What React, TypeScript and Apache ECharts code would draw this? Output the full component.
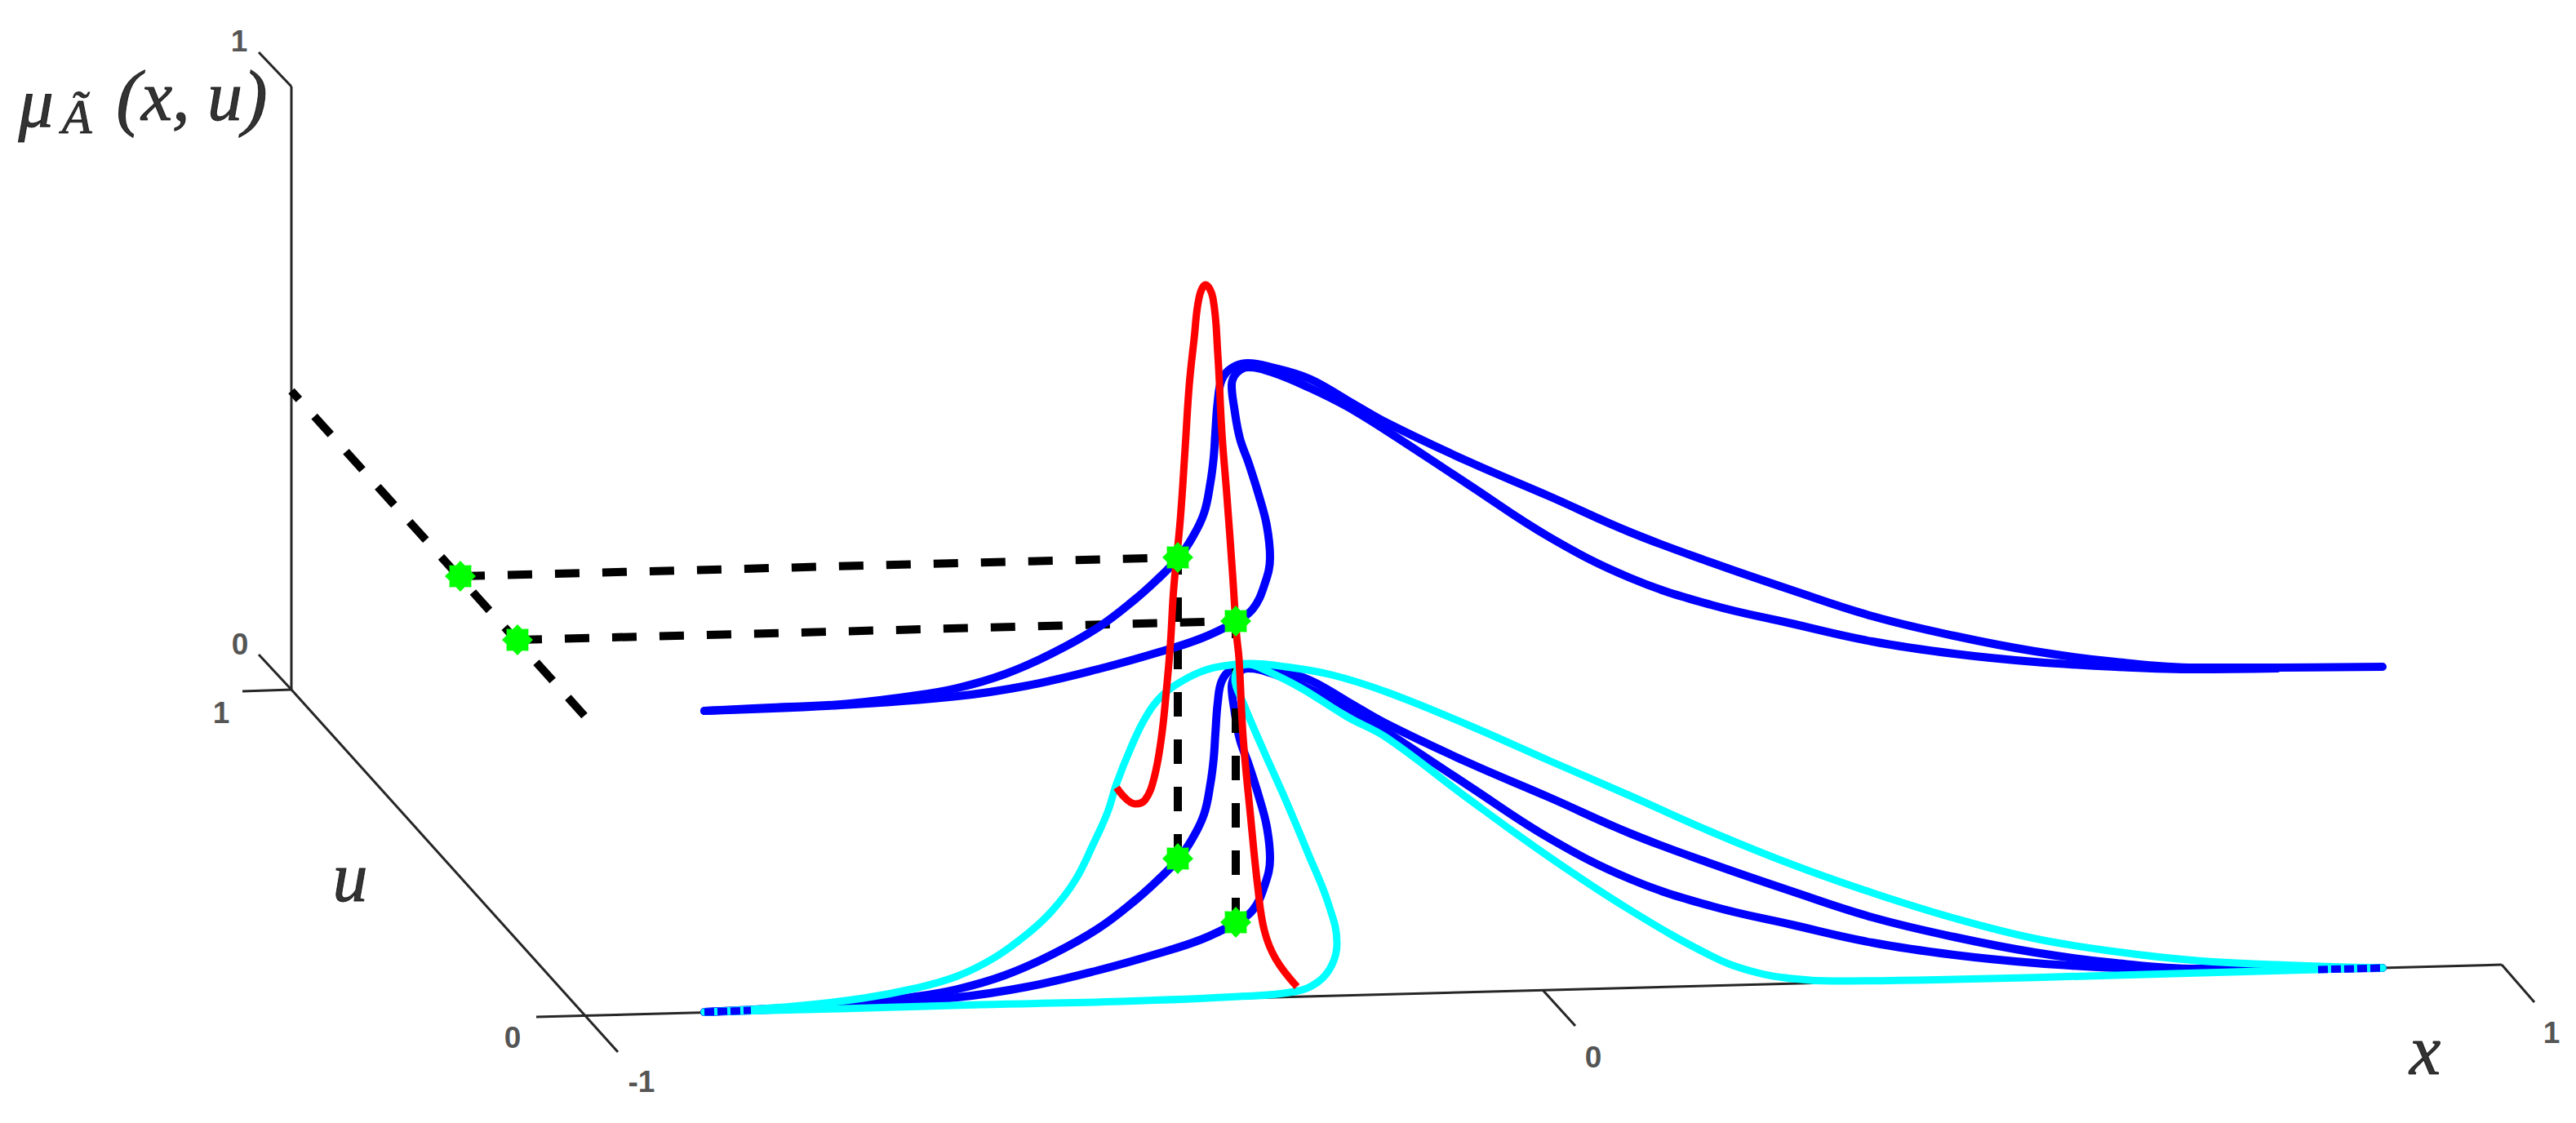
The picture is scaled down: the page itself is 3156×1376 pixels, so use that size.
import { useEffect, useRef } from 'react'
import * as echarts from 'echarts'

type Pt = [number, number]

const muAxis: Pt[] = [[357, 106], [357, 845]]
const uAxis: Pt[] = [[357, 845], [757, 1289]]
const xAxisLine: Pt[] = [[657, 1246], [3065, 1182]]
const muTopTick: Pt[] = [[317, 64], [357, 106]]
const muBottomTick: Pt[] = [[317, 802], [357, 845]]
const uTopTick: Pt[] = [[297, 847], [357, 845]]
const xMidTick: Pt[] = [[1890, 1213], [1930, 1257]]
const xEndTick: Pt[] = [[3065, 1182], [3105, 1228]]

const tickLabels = ['1', '0', '1', '0', '-1', '0', '1']
const tickLabelXs = [293, 294, 271, 628, 786, 1952, 3126]
const tickLabelYs = [50, 789, 873, 1271, 1325, 1295, 1265]

const mathLabels = ['{m|μ}', '{s|Ã}', '{p|(}{m|x, u}{p|)}', '{m|u}', '{m|x}']
const mathLabelXs = [44, 94, 235, 429, 2971]
const mathLabelYs = [126, 143, 118, 1075, 1287]

// dashed guides, listed from the end where their dash pattern starts
const guideUDiagonal: Pt[] = [[716, 877], [357, 479]]
const guideUpperLeft: Pt[] = [[564, 706], [1443, 683]]
const guideLowerLeft: Pt[] = [[634, 784], [1514, 761]]
const guideDropLeft: Pt[] = [[1443, 1052], [1443, 683]]
const guideDropRight: Pt[] = [[1514, 1130], [1514, 761]]

const markers: Pt[] = [[564, 706], [634, 784], [1443, 683], [1514, 761], [1443, 1052], [1514, 1130]]

const topLeftRise: Pt[] = [
  [863, 871], [944, 867], [1030, 863], [1116, 853], [1173, 843], [1231, 826], [1288, 801],
  [1345, 769], [1391, 734], [1420, 708], [1443, 685]
]
const topLeftCrest: Pt[] = [
  [1443, 685], [1460, 660], [1475, 629], [1483, 591], [1487, 560], [1489, 530], [1492, 491],
  [1497, 465], [1509, 451], [1529, 445], [1558, 450], [1604, 464], [1650, 490], [1699, 518],
  [1798, 565], [1898, 608], [1997, 652], [2096, 689], [2195, 723], [2294, 755], [2394, 779],
  [2493, 798], [2592, 811], [2691, 818], [2790, 818], [2919, 817]
]
const topRightRise: Pt[] = [
  [863, 871], [1030, 864], [1173, 853], [1259, 840], [1345, 820], [1420, 799], [1472, 782], [1514, 762]
]
const topRightCrest: Pt[] = [
  [1514, 762], [1535, 746], [1549, 717], [1556, 683], [1552, 644], [1542, 606], [1530, 568],
  [1519, 537], [1512, 499], [1509, 472], [1515, 457], [1529, 450], [1558, 456], [1604, 475],
  [1650, 498], [1699, 528], [1798, 593], [1898, 658], [1997, 708], [2096, 741], [2195, 764],
  [2294, 786], [2394, 801], [2493, 811], [2592, 817], [2691, 820], [2790, 819]
]

const groundLeftRise: Pt[] = [
  [863, 1240], [944, 1236], [1030, 1232], [1116, 1222], [1173, 1212], [1231, 1195], [1288, 1170],
  [1345, 1138], [1391, 1103], [1420, 1077], [1443, 1054]
]
const groundLeftCrest: Pt[] = [
  [1443, 1054], [1460, 1029], [1475, 998], [1483, 960], [1487, 929], [1489, 899], [1492, 860],
  [1497, 834], [1509, 820], [1529, 814], [1558, 819], [1604, 833], [1650, 859], [1699, 887],
  [1798, 934], [1898, 977], [1997, 1021], [2096, 1058], [2195, 1092], [2294, 1124], [2394, 1148],
  [2493, 1167], [2592, 1180], [2691, 1187], [2790, 1187], [2919, 1186]
]
const groundRightRise: Pt[] = [
  [863, 1240], [1030, 1233], [1173, 1222], [1259, 1209], [1345, 1189], [1420, 1168], [1472, 1151], [1514, 1131]
]
const groundRightCrest: Pt[] = [
  [1514, 1131], [1535, 1115], [1549, 1086], [1556, 1052], [1552, 1013], [1542, 975], [1530, 937],
  [1519, 906], [1512, 868], [1509, 841], [1515, 826], [1529, 819], [1558, 825], [1604, 844],
  [1650, 867], [1699, 897], [1798, 962], [1898, 1027], [1997, 1077], [2096, 1110], [2195, 1133],
  [2294, 1155], [2394, 1170], [2493, 1180], [2592, 1186], [2691, 1189], [2790, 1188]
]

const cyanOuter: Pt[] = [
  [863, 1240], [972, 1233], [1058, 1223], [1121, 1211], [1173, 1196], [1219, 1173], [1259, 1144],
  [1288, 1117], [1317, 1079], [1340, 1033], [1357, 995], [1368, 960], [1386, 915], [1403, 880],
  [1423, 853], [1449, 834], [1477, 821], [1506, 815], [1532, 813], [1575, 817], [1632, 827],
  [1699, 848], [1798, 888], [1898, 932], [1997, 975], [2096, 1019], [2195, 1059], [2294, 1094],
  [2394, 1125], [2493, 1150], [2592, 1166], [2691, 1177], [2790, 1182], [2919, 1186]
]
const cyanInner: Pt[] = [
  [863, 1240], [1030, 1236], [1202, 1231], [1374, 1227], [1518, 1221], [1586, 1215], [1615, 1203],
  [1632, 1182], [1638, 1156], [1627, 1106], [1604, 1049], [1575, 980], [1546, 915], [1523, 861],
  [1513, 832], [1518, 818], [1530, 814], [1541, 817], [1592, 842], [1650, 878], [1699, 904],
  [1798, 978], [1898, 1050], [1997, 1115], [2096, 1171], [2146, 1190], [2195, 1199], [2245, 1202],
  [2394, 1200], [2592, 1195], [2840, 1188], [2919, 1186]
]

const redCurve: Pt[] = [
  [1368, 965], [1391, 985], [1403, 980], [1414, 953], [1423, 903], [1429, 846], [1434, 788],
  [1438, 721], [1446, 637], [1452, 549], [1457, 472], [1463, 415], [1469, 365], [1477, 349],
  [1486, 365], [1492, 434], [1497, 530], [1503, 606], [1510, 702], [1515, 778], [1518, 807],
  [1523, 903], [1532, 999], [1541, 1087], [1549, 1140], [1563, 1175], [1589, 1209]
]

const overlapLeft: Pt[] = [[863, 1240], [920, 1238]]
const overlapRight: Pt[] = [[2840, 1188], [2919, 1186]]

const starPath =
  'path://M100 50L85.1 64.5L85.4 85.4L64.5 85.1L50 100L35.5 85.1L14.6 85.4L14.9 64.5L0 50L14.9 35.5L14.6 14.6L35.5 14.9L50 0L64.5 14.9L85.4 14.6L85.1 35.5Z'

const makeLine = (data: Pt[], color: string, width: number, extra: any = {}, smooth: boolean | number = false) => ({
  type: 'line',
  data,
  smooth,
  symbol: 'none',
  silent: true,
  clip: false,
  lineStyle: { color, width, cap: 'round', join: 'round', ...extra }
})

const makeBlue = (data: Pt[]) => makeLine(data, '#0000ff', 10, {}, 0.4)
const makeCyan = (data: Pt[]) => makeLine(data, '#00ffff', 9, {}, 0.4)
const makeDash = (data: Pt[]) => makeLine(data, '#000000', 10, { type: [30, 28], cap: 'butt' })

const mathText = {
  fontFamily: 'Liberation Serif',
  fontStyle: 'italic',
  color: '#000000',
  textBorderColor: '#000000',
  textBorderWidth: 1
}

export default function App() {
  const chartRef = useRef<HTMLDivElement>(null)

  useEffect(() => {
    if (!chartRef.current) return
    const chart = echarts.init(chartRef.current, undefined, { renderer: 'svg' })

    const axisLines = [muAxis, uAxis, xAxisLine, muTopTick, muBottomTick, uTopTick, xMidTick, xEndTick]

    const option: any = {
      animation: false,
      backgroundColor: '#ffffff',
      grid: { left: 0, right: 0, top: 0, bottom: 0 },
      xAxis: { type: 'value', min: 0, max: 3156, show: false },
      yAxis: { type: 'value', min: 0, max: 1376, inverse: true, show: false },
      series: [
        ...axisLines.map(l => makeLine(l, '#262626', 3, { cap: 'butt' })),
        makeBlue(groundLeftCrest),
        makeBlue(groundRightCrest),
        makeDash(guideUDiagonal),
        makeDash(guideUpperLeft),
        makeDash(guideLowerLeft),
        makeDash(guideDropLeft),
        makeDash(guideDropRight),
        makeBlue(topLeftCrest),
        makeBlue(topRightCrest),
        {
          type: 'scatter',
          // line series default to z 3, the stars have to sit in that same layer
          z: 3,
          data: markers,
          symbol: starPath,
          symbolSize: 38,
          silent: true,
          itemStyle: { color: '#00ff00', opacity: 1 }
        },
        makeBlue(topLeftRise),
        makeBlue(topRightRise),
        makeBlue(groundLeftRise),
        makeBlue(groundRightRise),
        makeCyan(cyanOuter),
        makeCyan(cyanInner),
        makeLine(redCurve, '#ff0000', 9, { cap: 'butt' }, 0.4),
        makeLine(overlapLeft, '#0000ff', 9, { type: [12, 4], cap: 'butt' }),
        makeLine(overlapRight, '#0000ff', 9, { type: [12, 4], cap: 'butt' }),
        {
          type: 'scatter',
          z: 3,
          symbolSize: 0,
          silent: true,
          data: tickLabels.map((t, i) => ({ value: [tickLabelXs[i], tickLabelYs[i]], name: t })),
          label: {
            show: true,
            position: 'inside',
            formatter: (p: any) => p.name,
            fontFamily: 'Liberation Sans',
            fontWeight: 'bold',
            fontSize: 37,
            color: '#262626'
          }
        },
        {
          type: 'scatter',
          z: 3,
          symbolSize: 0,
          silent: true,
          data: mathLabels.map((t, i) => ({ value: [mathLabelXs[i], mathLabelYs[i]], name: t })),
          label: {
            show: true,
            position: 'inside',
            formatter: (p: any) => p.name,
            rich: {
              m: { ...mathText, fontSize: 86 },
              p: { ...mathText, fontSize: 92 },
              s: { ...mathText, fontSize: 60 }
            }
          }
        }
      ]
    }

    chart.setOption(option)

    return () => {
      chart.dispose()
    }
  }, [])

  return (
    <div
      ref={chartRef}
      style={{ position: 'fixed', left: 0, top: 0, width: '3156px', height: '1376px' }}
    />
  )
}
